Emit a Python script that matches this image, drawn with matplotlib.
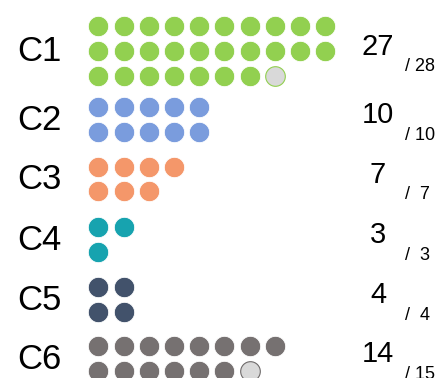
import matplotlib.pyplot as plt

plt.rcParams['font.family'] = ['Liberation Sans', 'DejaVu Sans']

# Completed vs. total items per category
categories = ['C1', 'C2', 'C3', 'C4', 'C5', 'C6']
done = [27, 10, 7, 3, 4, 14]
totals = [28, 10, 7, 3, 4, 15]
per_row = [10, 5, 4, 2, 2, 8]
colors = ['#92D050', '#7A9CDD', '#F4976A', '#17A3AF', '#42526B', '#767171']
edge_colors = ['#92D050', '#7A9CDD', '#F4976A', '#17A3AF', '#42526B', '#6E6A6A']
missing_fill = '#D9D9D9'

# layout (pixel units, y grows downward)
W, H = 443, 378
first_row_y = [26, 107, 166.5, 227, 287, 346]
row_pitch = 24.8
col_pitch = 25.2
dot_x0 = 98.5

fig = plt.figure(figsize=(W / 100, H / 100), dpi=100)
ax = fig.add_axes([0, 0, 1, 1])
ax.set_xlim(0, W)
ax.set_ylim(H, 0)
ax.axis('off')

for i, cat in enumerate(categories):
    n_total = totals[i]
    xs, ys = [], []
    for k in range(n_total):
        r, c = divmod(k, per_row[i])
        xs.append(dot_x0 + c * col_pitch)
        ys.append(first_row_y[i] + r * row_pitch)
    n_rows = (n_total - 1) // per_row[i] + 1
    mid = first_row_y[i] + (n_rows - 1) * row_pitch / 2

    ax.scatter(xs[:done[i]], ys[:done[i]], s=215, color=colors[i],
               edgecolors='white', linewidths=0.6, zorder=3)
    if n_total > done[i]:
        ax.scatter(xs[done[i]:], ys[done[i]:], s=200, color=missing_fill,
                   edgecolors=edge_colors[i], linewidths=0.8, zorder=3)

    ax.text(17, mid + 1, cat, fontsize=25, ha='left', va='center')
    ax.text(378, mid - 4, str(done[i]), fontsize=21, ha='center', va='center')
    ax.text(405, mid + 16, f'/ {n_total:>2}', fontsize=13, ha='left', va='center')

fig.savefig('out.png', dpi=100)
